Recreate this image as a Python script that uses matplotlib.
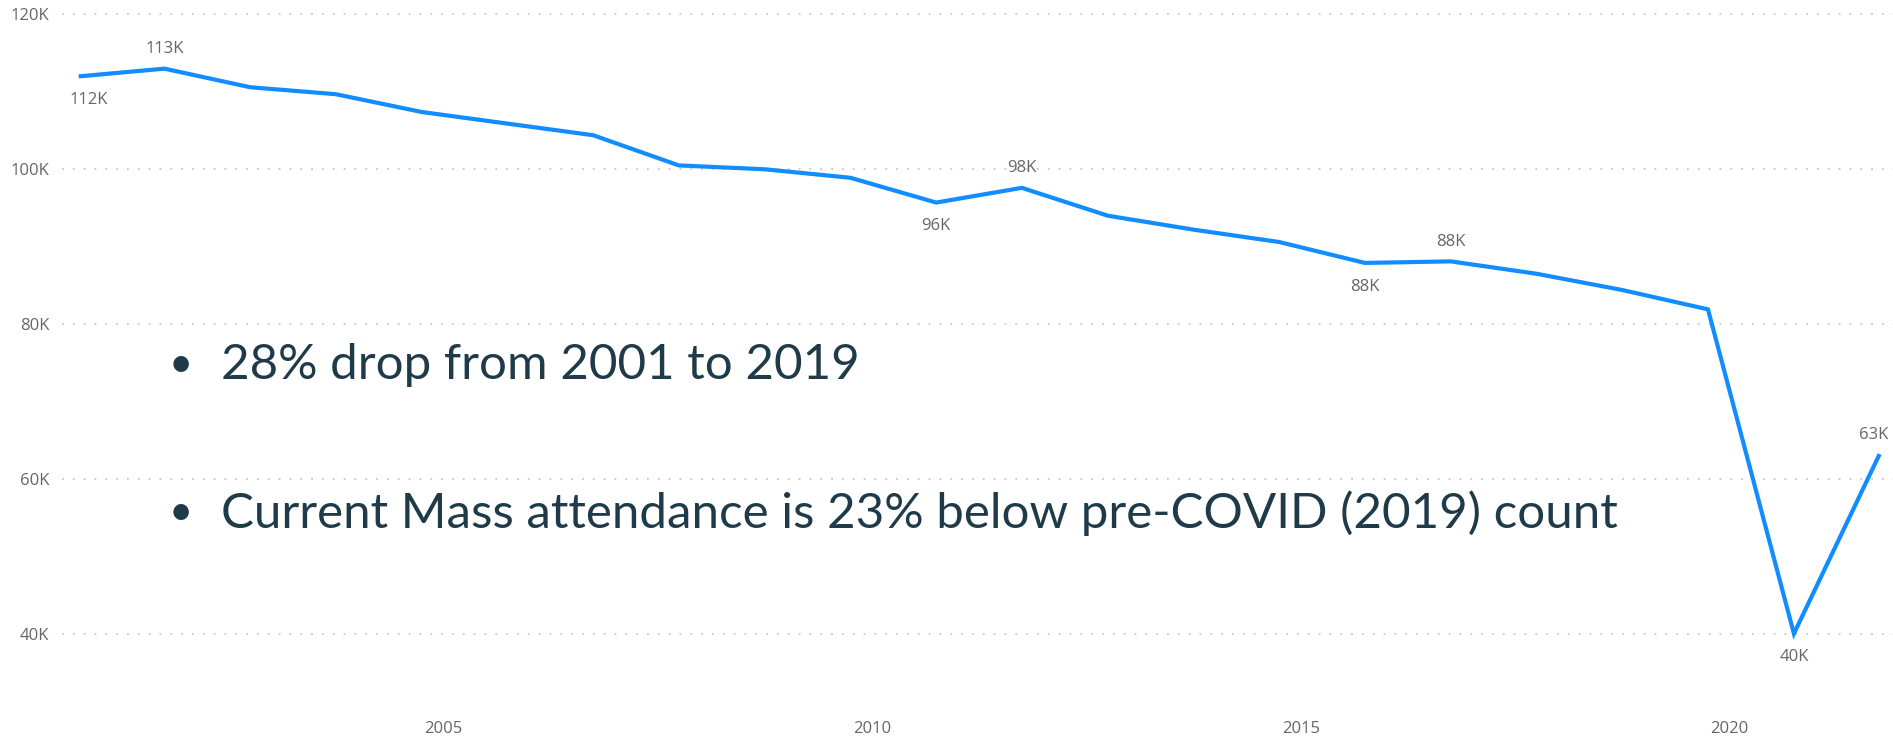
from datetime import datetime

import matplotlib
matplotlib.use('Agg')
import matplotlib.pyplot as plt
import matplotlib.dates as mdates
from matplotlib.ticker import FuncFormatter


# October counts, one per year
years = list(range(2000, 2022))
attendance = [112000, 113000, 110600, 109700, 107400, 105900, 104400, 100500,
              100000, 98900, 95700, 97600, 94000, 92200, 90600, 87900,
              88100, 86500, 84400, 81900, 40000, 63200]

# which points get a data label, and on which side
label_below = [0, 10, 15, 20]
label_above = [1, 11, 16, 21]

bullets = ['28% drop from 2001 to 2019',
           'Current Mass attendance is 23% below pre-COVID (2019) count']

y_ticks = [40000, 60000, 80000, 100000, 120000]


def k_fmt(v, pos=None):
    return f'{v/1000:.0f}K'


def main():
    W, H = 1893, 739
    fig = plt.figure(figsize=(W / 100, H / 100), dpi=100)
    fig.patch.set_facecolor('white')
    ax = fig.add_axes([62 / W, 39 / H, 1 - 62 / W, 1 - 39 / H])

    dates = [datetime(y, 10, 1) for y in years]
    ax.plot(dates, attendance, color='#118DFF', lw=3, solid_joinstyle='miter',
            solid_capstyle='butt', zorder=3)

    ax.set_xlim(datetime(2000, 7, 22), datetime(2021, 11, 27))
    ax.set_ylim(31430, 121870)

    ax.xaxis.set_major_locator(mdates.YearLocator(5))
    ax.xaxis.set_major_formatter(mdates.DateFormatter('%Y'))
    ax.set_yticks(y_ticks)
    ax.yaxis.set_major_formatter(FuncFormatter(k_fmt))

    lab_col = '#666666'
    for lab in ax.get_xticklabels() + ax.get_yticklabels():
        lab.set_fontfamily('Open Sans')
        lab.set_fontsize(12)
        lab.set_color(lab_col)
    ax.tick_params(axis='both', length=0)
    ax.tick_params(axis='x', pad=15)
    ax.tick_params(axis='y', pad=9)

    ax.grid(axis='y', color='#c8c8c8', lw=1.3, linestyle=(0, (1, 5)))
    ax.grid(axis='x', visible=False)
    for s in ax.spines.values():
        s.set_visible(False)

    for i in label_below:
        dx = 7 if i == 0 else 0
        ax.annotate(k_fmt(attendance[i]), (dates[i], attendance[i]),
                    xytext=(dx, -17), textcoords='offset points',
                    ha='center', va='center', fontsize=12,
                    family='Open Sans', color=lab_col)
    for i in label_above:
        dx = -4 if i == len(years) - 1 else 0
        ax.annotate(k_fmt(attendance[i]), (dates[i], attendance[i]),
                    xytext=(dx, 14), textcoords='offset points',
                    ha='center', va='center', fontsize=12,
                    family='Open Sans', color=lab_col)

    # bullet text over the chart
    text_col = '#1f3a48'
    rows_y = [365, 513]
    for txt, yy in zip(bullets, rows_y):
        fig.text(181 / W, 1 - yy / H, '\u2022', fontsize=30, family='Lato',
                 color=text_col, ha='center', va='center')
        fig.text(221 / W, 1 - yy / H, txt, fontsize=35.5, family='Lato',
                 color=text_col, ha='left', va='center')

    fig.savefig('out.png', dpi=100, facecolor='white')


if __name__ == '__main__':
    main()
